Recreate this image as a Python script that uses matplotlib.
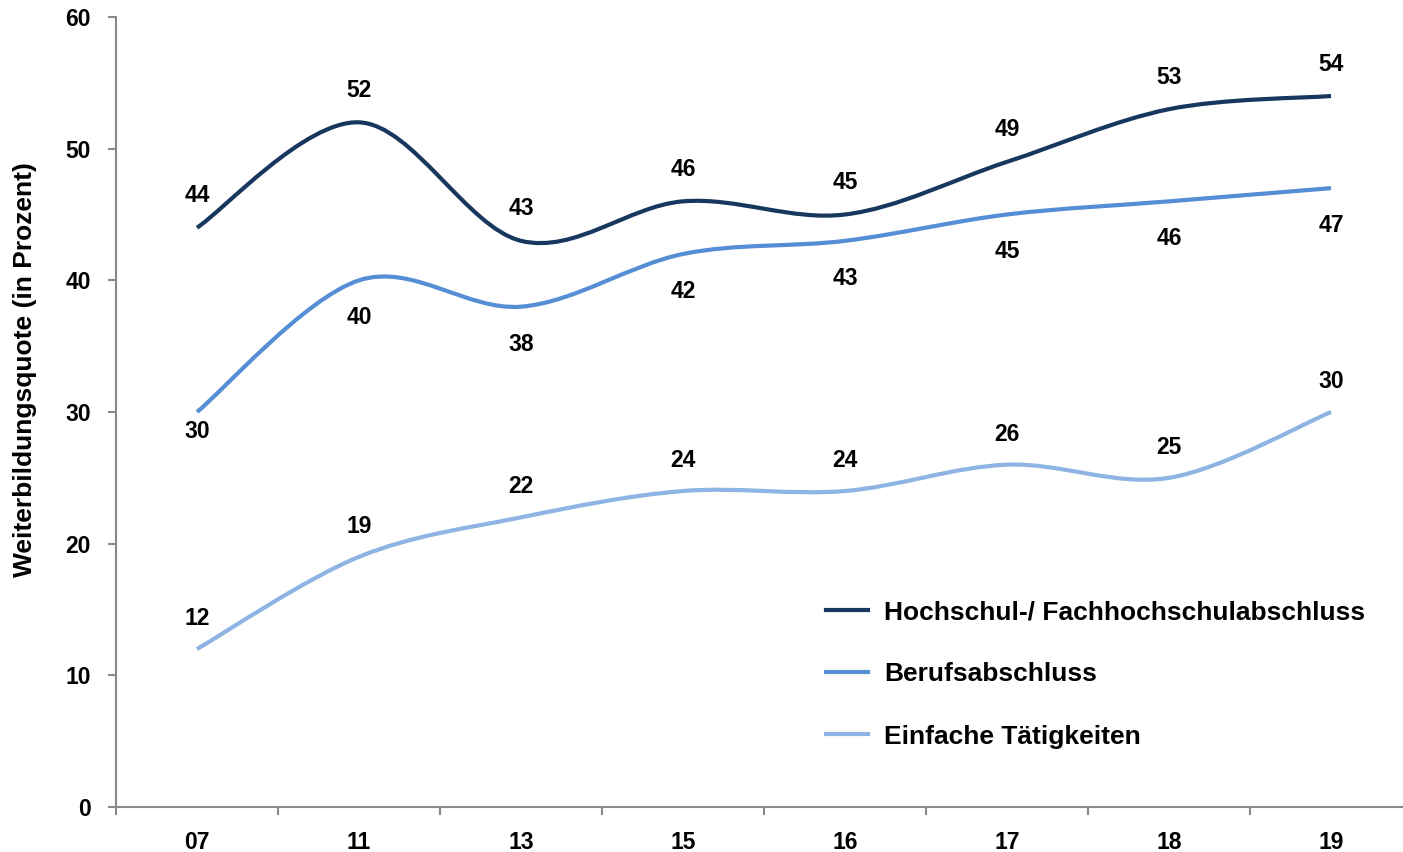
import matplotlib
matplotlib.use('Agg')
import matplotlib.pyplot as plt
from matplotlib.path import Path
from matplotlib.patches import PathPatch
from matplotlib.lines import Line2D
from matplotlib.transforms import offset_copy

years = ['07', '11', '13', '15', '16', '17', '18', '19']
hochschule = [44, 52, 43, 46, 45, 49, 53, 54]
beruf = [30, 40, 38, 42, 43, 45, 46, 47]
einfach = [12, 19, 22, 24, 24, 26, 25, 30]

names = ['Hochschul-/ Fachhochschulabschluss', 'Berufsabschluss', 'Einfache Tätigkeiten']
colors = ['#17375E', '#558ED5', '#8EB4E3']

plt.rcParams['font.family'] = ['Liberation Sans', 'DejaVu Sans']
plt.rcParams['font.weight'] = 'bold'

NUM_SIZE = 16.5
TXT_SIZE = 19

fig = plt.figure(figsize=(14.03, 8.52), dpi=100)
ax = fig.add_axes([116 / 1403, 1 - 807 / 852, 1296 / 1403, 790 / 852])


def smooth_path(ys):
    # Excel-style smoothed line: cubic bezier segments, tension 1/6
    xs = list(range(len(ys)))
    pts = list(zip(xs, ys))
    verts = [pts[0]]
    codes = [Path.MOVETO]
    n = len(pts)
    for i in range(n - 1):
        p0 = pts[max(i - 1, 0)]
        p1 = pts[i]
        p2 = pts[i + 1]
        p3 = pts[min(i + 2, n - 1)]
        c1 = (p1[0] + (p2[0] - p0[0]) / 6, p1[1] + (p2[1] - p0[1]) / 6)
        c2 = (p2[0] - (p3[0] - p1[0]) / 6, p2[1] - (p3[1] - p1[1]) / 6)
        verts += [c1, c2, p2]
        codes += [Path.CURVE4] * 3
    return Path(verts, codes)


series = [hochschule, beruf, einfach]
# label offsets in points (positive = above)
offsets = [[23] * 8, [-14] + [-27] * 7, [22] * 8]
for vals, col, offs in zip(series, colors, offsets):
    ax.add_patch(PathPatch(smooth_path(vals), facecolor='none', edgecolor=col,
                           lw=3, capstyle='butt'))
    for i, v in enumerate(vals):
        tr = offset_copy(ax.transData, fig=fig, x=0, y=offs[i], units='points')
        ax.text(i, v, str(v), transform=tr, ha='center', va='center',
                fontsize=NUM_SIZE, fontweight='bold')

ax.set_xlim(-0.5, len(years) - 0.5)
ax.set_ylim(0, 60)
ax.set_yticks(range(0, 61, 10))
ax.set_xticks([i + 0.5 for i in range(-1, len(years))], minor=False)
ax.set_xticklabels([''] * (len(years) + 1))
ax.set_xticks(range(len(years)), minor=True)
ax.set_xticklabels(years, minor=True)
ax.tick_params(axis='x', which='minor', length=0, pad=17, labelsize=NUM_SIZE)
ax.tick_params(axis='x', which='major', length=6, width=1.5, color='#898989')
ax.tick_params(axis='y', length=6, width=1.5, color='#898989', pad=12, labelsize=NUM_SIZE)
for lbl in ax.get_xticklabels(minor=True) + ax.get_yticklabels():
    lbl.set_fontweight('bold')

for s in ['top', 'right']:
    ax.spines[s].set_visible(False)
for s in ['left', 'bottom']:
    ax.spines[s].set_color('#898989')
    ax.spines[s].set_linewidth(1.5)

fig.text(25 / 1403, 1 - 370 / 852, 'Weiterbildungsquote (in Prozent)', rotation=90,
         ha='center', va='center', fontsize=TXT_SIZE, fontweight='bold')

handles = [Line2D([], [], color=c, lw=3) for c in colors]
ax.legend(handles, names, loc='upper left', bbox_to_anchor=(826 / 1403, 1 - 600 / 852),
          bbox_transform=fig.transFigure, frameon=False, borderpad=0, borderaxespad=0,
          handlelength=1.6, handletextpad=0.6, labelspacing=1.45,
          prop={'weight': 'bold', 'size': TXT_SIZE})

fig.savefig('out.png', dpi=100)
